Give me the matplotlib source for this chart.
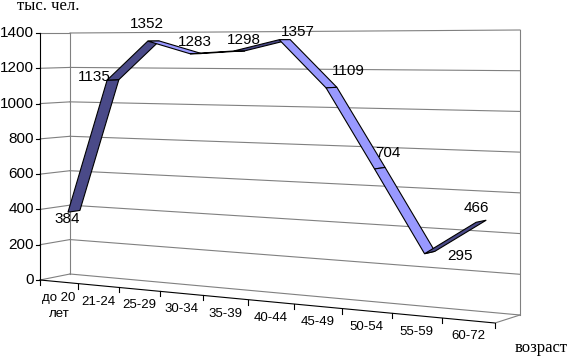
import matplotlib.pyplot as plt
from matplotlib.patches import Polygon

# age groups and number of people (thousands)
categories = ['до 20\nлет', '21-24', '25-29', '30-34', '35-39', '40-44',
              '45-49', '50-54', '55-59', '60-72']
values = [384, 1135, 1352, 1283, 1298, 1357, 1109, 704, 295, 466]
y_ticks = [0, 200, 400, 600, 800, 1000, 1200, 1400]

# where each value label sits relative to its point (pixels)
label_offsets = [(-7, 8), (-19, -3), (-7, -17), (-1, -12), (4, -11),
                 (13, -8), (17, -17), (8, -15), (30, 3), (-5, -13)]

VMAX = 1400
N = len(categories)
DARK = '#4a4a88'
LIGHT = '#9999ff'
GRID = '#808080'


def frac(u):
    # perspective along the category axis, 0..1
    return (37.7 * u + 0.78 * u ** 2) / 455.0


def proj(u, v, w):
    # u: category position, v: value, w: depth (0 front, 1 back)
    s = frac(u)
    x = (40 + 455 * s) * (1 - w) + (70 + 450 * s) * w
    y0 = (280 + 43 * s) * (1 - w) + (274 + 41 * s) * w
    top = 33 - 3 * s
    return x, y0 + (top - y0) * v / VMAX


def line(ax, p, q, **kw):
    ax.plot([p[0], q[0]], [p[1], q[1]], **kw)


fig = plt.figure(figsize=(5.68, 3.56), dpi=100)
ax = fig.add_axes([0, 0, 1, 1])
ax.set_xlim(0, 568)
ax.set_ylim(356, 0)
ax.axis('off')

# walls and gridlines
for t in y_ticks:
    line(ax, proj(0, t, 1), proj(N, t, 1), color=GRID, lw=0.8)
    line(ax, proj(0, t, 0), proj(0, t, 1), color=GRID, lw=0.8)
line(ax, proj(0, 0, 1), proj(0, VMAX, 1), color=GRID, lw=0.8)
line(ax, proj(N, 0, 1), proj(N, VMAX, 1), color=GRID, lw=0.8)

# value axis
line(ax, proj(0, 0, 0), proj(0, VMAX, 0), color='black', lw=0.8)
for t in y_ticks:
    x, y = proj(0, t, 0)
    ax.plot([x - 4, x], [y, y], color='black', lw=0.8)
    ax.text(x - 6, y, str(t), ha='right', va='center', fontsize=11,
            family='Liberation Sans')

# category axis (front edge of floor)
line(ax, proj(0, 0, 0), proj(N, 0, 0), color='black', lw=0.8)
line(ax, proj(N, 0, 0), proj(N, 0, 1), color=GRID, lw=0.8)
for i in range(N + 1):
    x, y = proj(i, 0, 0)
    ax.plot([x, x], [y, y + 5], color='black', lw=0.8)
for i, c in enumerate(categories):
    x, y = proj(i + 0.5, 0, 0)
    ax.text(x, y + 10, c, ha='center', va='top', fontsize=9.5,
            family='Liberation Sans', linespacing=1.5)

# ribbon
W0, W1 = 0.3, 0.7
for i in range(N - 1):
    ua, ub = i + 0.5, i + 1.5
    va, vb = values[i], values[i + 1]
    pts = [proj(ua, va, W0), proj(ua, va, W1), proj(ub, vb, W1), proj(ub, vb, W0)]
    col = DARK if vb > va else LIGHT
    ax.add_patch(Polygon(pts, closed=True, facecolor=col, edgecolor='black',
                         lw=0.8, zorder=3))

# value labels
for i, v in enumerate(values):
    x, y = proj(i + 0.5, v, 0.5)
    dx, dy = label_offsets[i]
    ax.text(x + dx, y + dy, str(v), ha='center', va='center', fontsize=11,
            family='Liberation Sans', zorder=4)

ax.text(17, 10, 'тыс. чел.', ha='left', va='baseline', fontsize=12,
        family='Liberation Serif')
ax.text(568, 348, 'возраст', ha='right', va='center', fontsize=12,
        family='Liberation Serif')

fig.savefig('out.png', dpi=100)
